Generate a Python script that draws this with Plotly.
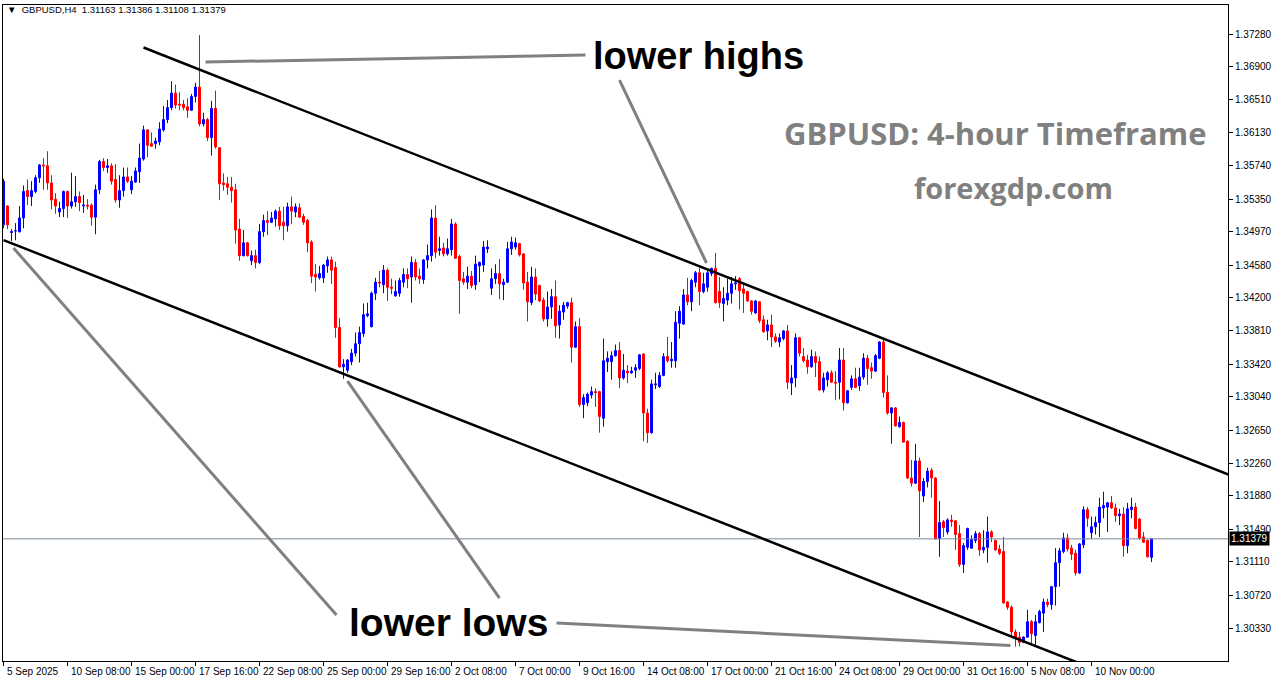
import plotly.graph_objects as go

# ---------------- data (GBPUSD H4) ----------------
opens = [
 1.3505,1.3527,1.3496,1.3498,1.3497,1.3513,1.3545,1.3538,1.3544,1.3560,
 1.3575,1.3574,1.3554,1.3535,1.3520,1.3524,1.3544,1.3527,1.3532,1.3538,
 1.3527,1.3528,1.3528,1.3514,1.3546,1.3579,1.3572,1.3574,1.3558,1.3534,
 1.3545,1.3561,1.3546,1.3555,1.3567,1.3582,1.3616,1.3600,1.3600,1.3602,
 1.3616,1.3628,1.3642,1.3659,1.3646,1.3646,1.3643,1.3639,1.3655,1.3666,
 1.3623,1.3628,1.3607,1.3641,1.3595,1.3554,1.3553,1.3549,1.3546,1.3500,
 1.3469,1.3484,1.3463,1.3469,1.3461,1.3497,1.3510,1.3508,1.3512,1.3521,
 1.3508,1.3504,1.3526,1.3520,1.3525,1.3515,1.3510,1.3485,1.3447,1.3443,
 1.3443,1.3457,1.3464,1.3455,1.3385,1.3339,1.3335,1.3345,1.3355,1.3366,
 1.3378,1.3399,1.3386,1.3425,1.3438,1.3435,1.3452,1.3432,1.3422,1.3425,
 1.3438,1.3447,1.3444,1.3461,1.3445,1.3441,1.3464,1.3469,1.3513,1.3475,
 1.3478,1.3471,1.3476,1.3506,1.3468,1.3442,1.3438,1.3445,1.3435,1.3457,
 1.3458,1.3477,1.3431,1.3442,1.3448,1.3435,1.3438,1.3477,1.3479,1.3483,
 1.3471,1.3438,1.3414,1.3444,1.3434,1.3417,1.3395,1.3409,1.3421,1.3388,
 1.3403,1.3410,1.3414,1.3362,1.3386,1.3295,1.3297,1.3306,1.3310,1.3310,
 1.3279,1.3345,1.3345,1.3352,1.3358,1.3326,1.3334,1.3332,1.3335,1.3337,
 1.3354,1.3285,1.3262,1.3318,1.3316,1.3329,1.3351,1.3346,1.3346,1.3390,
 1.3389,1.3423,1.3415,1.3438,1.3449,1.3427,1.3432,1.3448,1.3454,1.3427,
 1.3413,1.3417,1.3425,1.3436,1.3442,1.3430,1.3427,1.3416,1.3402,1.3415,
 1.3394,1.3381,1.3388,1.3374,1.3368,1.3372,1.3381,1.3320,1.3326,1.3373,
 1.3351,1.3347,1.3339,1.3351,1.3345,1.3312,1.3324,1.3332,1.3321,1.3321,
 1.3347,1.3297,1.3315,1.3325,1.3317,1.3327,1.3349,1.3338,1.3334,1.3349,
 1.3368,1.3309,1.3285,1.3291,1.3269,1.3274,1.3252,1.3209,1.3203,1.3229,
 1.3188,1.3205,1.3218,1.3209,1.3138,1.3158,1.3146,1.3160,1.3159,1.3144,
 1.3108,1.3128,1.3127,1.3136,1.3144,1.3125,1.3128,1.3146,1.3136,1.3126,
 1.3123,1.3064,1.3058,1.3029,1.3023,1.3017,1.3023,1.3041,1.3025,1.3040,
 1.3051,1.3064,1.3061,1.3082,1.3110,1.3123,1.3139,1.3127,1.3121,1.3098,
 1.3131,1.3172,1.3145,1.3152,1.3157,1.3174,1.3175,1.3180,1.3174,1.3165,
 1.3167,1.3130,1.3172,1.3175,1.3161,1.3140,1.3136,1.31163]

highs = [
 1.3559,1.3528,1.3500,1.3507,1.3527,1.3551,1.3558,1.3556,1.3563,1.3576,
 1.3583,1.3591,1.3563,1.3542,1.3532,1.3545,1.3545,1.3566,1.3562,1.3544,
 1.3540,1.3535,1.3530,1.3552,1.3581,1.3583,1.3582,1.3577,1.3576,1.3563,
 1.3572,1.3572,1.3562,1.3572,1.3600,1.3621,1.3617,1.3613,1.3607,1.3625,
 1.3644,1.3651,1.3673,1.3669,1.3660,1.3651,1.3653,1.3658,1.3671,1.3727,
 1.3636,1.3630,1.3650,1.3662,1.3596,1.3565,1.3561,1.3561,1.3553,1.3512,
 1.3499,1.3485,1.3475,1.3476,1.3506,1.3517,1.3521,1.3520,1.3523,1.3526,
 1.3526,1.3531,1.3538,1.3530,1.3530,1.3518,1.3512,1.3487,1.3459,1.3457,
 1.3459,1.3468,1.3468,1.3462,1.3396,1.3348,1.3348,1.3360,1.3379,1.3386,
 1.3413,1.3414,1.3427,1.3443,1.3451,1.3458,1.3454,1.3442,1.3440,1.3443,
 1.3454,1.3454,1.3468,1.3465,1.3454,1.3465,1.3482,1.3523,1.3528,1.3491,
 1.3484,1.3489,1.3512,1.3508,1.3470,1.3450,1.3456,1.3451,1.3469,1.3462,
 1.3486,1.3487,1.3454,1.3459,1.3465,1.3442,1.3485,1.3491,1.3490,1.3484,
 1.3472,1.3450,1.3456,1.3454,1.3435,1.3420,1.3427,1.3430,1.3440,1.3411,
 1.3415,1.3415,1.3420,1.3392,1.3396,1.3307,1.3309,1.3316,1.3314,1.3311,
 1.3372,1.3357,1.3357,1.3365,1.3368,1.3354,1.3341,1.3339,1.3342,1.3354,
 1.3355,1.3290,1.3324,1.3332,1.3333,1.3355,1.3374,1.3368,1.3404,1.3410,
 1.3430,1.3443,1.3442,1.3451,1.3455,1.3449,1.3451,1.3455,1.3472,1.3444,
 1.3432,1.3442,1.3444,1.3445,1.3444,1.3436,1.3428,1.3417,1.3417,1.3416,
 1.3399,1.3394,1.3400,1.3378,1.3378,1.3382,1.3388,1.3341,1.3378,1.3374,
 1.3361,1.3353,1.3359,1.3357,1.3351,1.3332,1.3334,1.3335,1.3334,1.3361,
 1.3361,1.3312,1.3329,1.3338,1.3338,1.3355,1.3353,1.3344,1.3354,1.3369,
 1.3373,1.3329,1.3292,1.3292,1.3281,1.3275,1.3253,1.3230,1.3249,1.3233,
 1.3209,1.3221,1.3221,1.3210,1.3182,1.3160,1.3162,1.3166,1.3160,1.3154,
 1.3133,1.3151,1.3142,1.3147,1.3146,1.3148,1.3164,1.3148,1.3137,1.3131,
 1.3140,1.3065,1.3060,1.3032,1.3029,1.3024,1.3055,1.3043,1.3049,1.3055,
 1.3068,1.3068,1.3083,1.3127,1.3127,1.3145,1.3144,1.3131,1.3125,1.3133,
 1.3176,1.3175,1.3164,1.3164,1.3186,1.3193,1.3181,1.3188,1.3179,1.3173,
 1.3175,1.3180,1.3186,1.3180,1.3162,1.3146,1.3137,1.31386]

lows = [
 1.3501,1.3500,1.3486,1.3487,1.3496,1.3501,1.3528,1.3527,1.3542,1.3554,
 1.3546,1.3546,1.3523,1.3518,1.3514,1.3514,1.3513,1.3524,1.3526,1.3521,
 1.3519,1.3523,1.3504,1.3494,1.3541,1.3568,1.3566,1.3552,1.3531,1.3525,
 1.3538,1.3554,1.3541,1.3554,1.3554,1.3580,1.3584,1.3596,1.3594,1.3598,
 1.3614,1.3624,1.3639,1.3641,1.3639,1.3639,1.3630,1.3638,1.3648,1.3620,
 1.3620,1.3603,1.3586,1.3594,1.3534,1.3545,1.3540,1.3531,1.3483,1.3463,
 1.3468,1.3468,1.3458,1.3454,1.3459,1.3491,1.3493,1.3507,1.3503,1.3499,
 1.3487,1.3497,1.3506,1.3514,1.3513,1.3505,1.3473,1.3437,1.3427,1.3441,
 1.3437,1.3449,1.3436,1.3373,1.3338,1.3325,1.3332,1.3341,1.3351,1.3344,
 1.3374,1.3397,1.3385,1.3417,1.3432,1.3425,1.3416,1.3424,1.3421,1.3421,
 1.3432,1.3431,1.3414,1.3440,1.3436,1.3436,1.3454,1.3462,1.3466,1.3469,
 1.3468,1.3469,1.3469,1.3465,1.3401,1.3435,1.3430,1.3431,1.3429,1.3438,
 1.3450,1.3472,1.3423,1.3436,1.3418,1.3417,1.3437,1.3470,1.3476,1.3468,
 1.3429,1.3392,1.3411,1.3417,1.3415,1.3392,1.3386,1.3395,1.3373,1.3372,
 1.3394,1.3407,1.3344,1.3361,1.3292,1.3279,1.3293,1.3302,1.3292,1.3262,
 1.3269,1.3333,1.3324,1.3351,1.3314,1.3324,1.3320,1.3331,1.3326,1.3335,
 1.3252,1.3250,1.3261,1.3313,1.3314,1.3328,1.3344,1.3338,1.3338,1.3372,
 1.3388,1.3411,1.3404,1.3432,1.3411,1.3425,1.3427,1.3445,1.3413,1.3408,
 1.3392,1.3411,1.3413,1.3429,1.3406,1.3402,1.3415,1.3400,1.3401,1.3390,
 1.3379,1.3370,1.3362,1.3367,1.3362,1.3370,1.3313,1.3306,1.3315,1.3351,
 1.3344,1.3331,1.3338,1.3327,1.3311,1.3309,1.3316,1.3320,1.3300,1.3301,
 1.3288,1.3296,1.3312,1.3314,1.3311,1.3324,1.3318,1.3325,1.3333,1.3348,
 1.3303,1.3283,1.3249,1.3269,1.3268,1.3250,1.3208,1.3199,1.3202,1.3140,
 1.3181,1.3198,1.3186,1.3137,1.3117,1.3140,1.3143,1.3152,1.3125,1.3105,
 1.3098,1.3125,1.3126,1.3133,1.3118,1.3121,1.3110,1.3134,1.3124,1.3119,
 1.3062,1.3055,1.3022,1.3012,1.3012,1.3016,1.3022,1.3014,1.3014,1.3039,
 1.3029,1.3058,1.3055,1.3060,1.3082,1.3121,1.3123,1.3113,1.3095,1.3097,
 1.3127,1.3152,1.3138,1.3143,1.3140,1.3162,1.3146,1.3173,1.3158,1.3154,
 1.3117,1.3121,1.3162,1.3149,1.3137,1.3133,1.3116,1.31108]

closes = [
 1.3556,1.3505,1.3497,1.3498,1.3513,1.3544,1.3538,1.3545,1.3560,1.3575,
 1.3574,1.3554,1.3534,1.3527,1.3524,1.3544,1.3527,1.3532,1.3538,1.3531,
 1.3528,1.3527,1.3514,1.3546,1.3579,1.3572,1.3574,1.3556,1.3534,1.3545,
 1.3561,1.3556,1.3556,1.3568,1.3583,1.3616,1.3598,1.3597,1.3603,1.3617,
 1.3628,1.3642,1.3659,1.3645,1.3645,1.3642,1.3639,1.3655,1.3666,1.3623,
 1.3628,1.3607,1.3641,1.3596,1.3553,1.3552,1.3549,1.3545,1.3499,1.3469,
 1.3484,1.3469,1.3469,1.3461,1.3497,1.3510,1.3508,1.3513,1.3521,1.3504,
 1.3504,1.3526,1.3521,1.3526,1.3514,1.3508,1.3484,1.3445,1.3444,1.3448,
 1.3458,1.3464,1.3452,1.3385,1.3339,1.3342,1.3347,1.3355,1.3366,1.3379,
 1.3400,1.3401,1.3425,1.3438,1.3437,1.3452,1.3432,1.3431,1.3427,1.3440,
 1.3447,1.3442,1.3461,1.3444,1.3442,1.3464,1.3469,1.3513,1.3473,1.3477,
 1.3471,1.3477,1.3506,1.3466,1.3440,1.3438,1.3445,1.3434,1.3459,1.3461,
 1.3479,1.3479,1.3442,1.3448,1.3436,1.3438,1.3477,1.3485,1.3484,1.3470,
 1.3437,1.3415,1.3444,1.3424,1.3416,1.3395,1.3409,1.3421,1.3387,1.3404,
 1.3411,1.3414,1.3362,1.3386,1.3295,1.3303,1.3307,1.3310,1.3309,1.3281,
 1.3346,1.3349,1.3352,1.3358,1.3326,1.3335,1.3332,1.3334,1.3338,1.3353,
 1.3285,1.3262,1.3319,1.3319,1.3329,1.3351,1.3346,1.3348,1.3391,1.3404,
 1.3423,1.3415,1.3440,1.3449,1.3427,1.3436,1.3449,1.3454,1.3414,1.3414,
 1.3419,1.3425,1.3436,1.3437,1.3428,1.3425,1.3416,1.3404,1.3416,1.3393,
 1.3380,1.3388,1.3374,1.3369,1.3373,1.3381,1.3321,1.3326,1.3373,1.3355,
 1.3346,1.3339,1.3351,1.3344,1.3312,1.3326,1.3332,1.3321,1.3320,1.3347,
 1.3297,1.3311,1.3325,1.3315,1.3327,1.3349,1.3337,1.3334,1.3352,1.3368,
 1.3309,1.3285,1.3291,1.3270,1.3274,1.3251,1.3209,1.3203,1.3229,1.3194,
 1.3205,1.3217,1.3209,1.3138,1.3157,1.3151,1.3160,1.3158,1.3143,1.3108,
 1.3130,1.3150,1.3137,1.3144,1.3125,1.3128,1.3146,1.3140,1.3125,1.3121,
 1.3063,1.3058,1.3029,1.3022,1.3017,1.3023,1.3041,1.3027,1.3041,1.3053,
 1.3064,1.3061,1.3082,1.3110,1.3124,1.3139,1.3126,1.3120,1.3098,1.3132,
 1.3172,1.3162,1.3152,1.3157,1.3175,1.3177,1.3180,1.3174,1.3165,1.3167,
 1.3130,1.3173,1.3175,1.3150,1.3139,1.3134,1.3117,1.31379]

# time-axis labels (bar index, label)
date_label_bars = [0, 16, 32, 48, 64, 80, 96, 112, 128, 144, 160, 176, 192, 208, 224, 240, 256, 272]
date_labels = ["5 Sep 2025", "10 Sep 08:00", "15 Sep 00:00", "17 Sep 16:00", "22 Sep 08:00",
               "25 Sep 00:00", "29 Sep 16:00", "2 Oct 08:00", "7 Oct 00:00", "9 Oct 16:00",
               "14 Oct 08:00", "17 Oct 00:00", "21 Oct 16:00", "24 Oct 08:00", "29 Oct 00:00",
               "31 Oct 16:00", "5 Nov 08:00", "10 Nov 00:00"]

price_ticks = [1.37280, 1.36900, 1.36510, 1.36130, 1.35740, 1.35350, 1.34970, 1.34580,
               1.34200, 1.33810, 1.33420, 1.33040, 1.32650, 1.32260, 1.31880, 1.31490,
               1.31110, 1.30720, 1.30330, 1.29950]

current_price = 1.31379

# channel lines (bar index, price)
upper_channel_x = [35, 306.25]
upper_channel_y = [1.37123, 1.32131]
lower_channel_x = [0, 306.25]
lower_channel_y = [1.34872, 1.29239]

# grey pointer lines (bar index pairs, price pairs)
pointers = [
    ([50.5, 145.5], [1.36953, 1.37035]),
    ([154.0, 175.75], [1.36743, 1.34604]),
    ([2.5, 83.25], [1.34779, 1.30489]),
    ([86.0, 124.0], [1.33224, 1.30687]),
    ([138.25, 251.75], [1.30395, 1.30132]),
]

n = len(closes)
xs = list(range(n))

fig = go.Figure()

fig.add_trace(go.Candlestick(
    x=xs, open=opens, high=highs, low=lows, close=closes,
    increasing=dict(line=dict(color="#0000FF", width=1), fillcolor="#0000FF"),
    decreasing=dict(line=dict(color="#FF0000", width=1), fillcolor="#FF0000"),
    whiskerwidth=0, showlegend=False, hoverinfo="skip",
))

# current price line
fig.add_trace(go.Scatter(x=[-0.125, 306.25], y=[current_price, current_price], mode="lines",
                         line=dict(color="#778899", width=1), showlegend=False, hoverinfo="skip"))

# channel lines
for cx, cy in [(upper_channel_x, upper_channel_y), (lower_channel_x, lower_channel_y)]:
    fig.add_trace(go.Scatter(x=cx, y=cy, mode="lines", line=dict(color="black", width=2.5),
                             showlegend=False, hoverinfo="skip"))

# grey pointer lines
for px, py in pointers:
    fig.add_trace(go.Scatter(x=px, y=py, mode="lines", line=dict(color="#808080", width=3),
                             showlegend=False, hoverinfo="skip"))

W, H = 1276, 684
ml, mr, mt, mb = 3, 48, 5, 23
pw, ph = W - ml - mr, H - mt - mb


def px2paper(x, y):
    return (x - ml) / pw, (H - mb - y) / ph


annotations = []
for b, t in zip(date_label_bars, date_labels):
    annotations.append(dict(x=b, y=0, xref="x", yref="paper", text=t, showarrow=False,
                            xanchor="left", yanchor="top", xshift=1, yshift=-3,
                            font=dict(family="Liberation Sans, Arial", size=10, color="black")))

# current price label
annotations.append(dict(x=1, y=current_price, xref="paper", yref="y", text="1.31379",
                        showarrow=False, xanchor="left", yanchor="middle", xshift=1,
                        bgcolor="black", borderpad=1,
                        font=dict(family="Liberation Sans, Arial", size=10, color="white")))

# header
hx, hy = px2paper(5, 10)
annotations.append(dict(x=hx, y=hy, xref="paper", yref="paper",
                        text="\u25BC  GBPUSD,H4  1.31163 1.31386 1.31108 1.31379",
                        showarrow=False, xanchor="left", yanchor="middle",
                        font=dict(family="Liberation Sans, Arial", size=9.5, color="black")))

big_texts = [
    ("lower highs", 698, 56, 38, "black", "Liberation Sans, Arial"),
    ("lower lows", 448, 622, 39, "black", "Liberation Sans, Arial"),
    ("GBPUSD: 4-hour Timeframe", 996, 133, 31, "#808080", "Open Sans, Liberation Sans"),
    ("forexgdp.com", 1013, 187, 29, "#808080", "Open Sans, Liberation Sans"),
]
for t, x, y, s, c, f in big_texts:
    ax, ay = px2paper(x, y)
    annotations.append(dict(x=ax, y=ay, xref="paper", yref="paper", text="<b>%s</b>" % t,
                            showarrow=False, xanchor="center", yanchor="middle",
                            font=dict(family=f, size=s, color=c)))

fig.update_layout(
    width=W, height=H,
    margin=dict(l=ml, r=mr, t=mt, b=mb),
    paper_bgcolor="white", plot_bgcolor="white",
    showlegend=False,
    boxgap=0.5, boxgroupgap=0,
    annotations=annotations,
    xaxis=dict(range=[-0.125, 306.125], showgrid=False, zeroline=False, showline=True,
               linecolor="black", linewidth=1, mirror=True,
               tickvals=date_label_bars, ticktext=[""] * len(date_label_bars),
               ticks="outside", ticklen=4, tickcolor="black",
               rangeslider=dict(visible=False), fixedrange=True),
    yaxis=dict(range=[1.29951, 1.37620], side="right", showgrid=False, zeroline=False,
               showline=True, linecolor="black", linewidth=1, mirror=True,
               tickvals=price_ticks, ticktext=["%.5f" % v for v in price_ticks],
               ticks="outside", ticklen=4, tickcolor="black",
               tickfont=dict(family="Liberation Sans, Arial", size=10, color="black"),
               fixedrange=True),
)

fig.write_html("out.html", config={"displayModeBar": False},
               post_script="document.body.style.margin='0';document.body.style.overflow='hidden';")
